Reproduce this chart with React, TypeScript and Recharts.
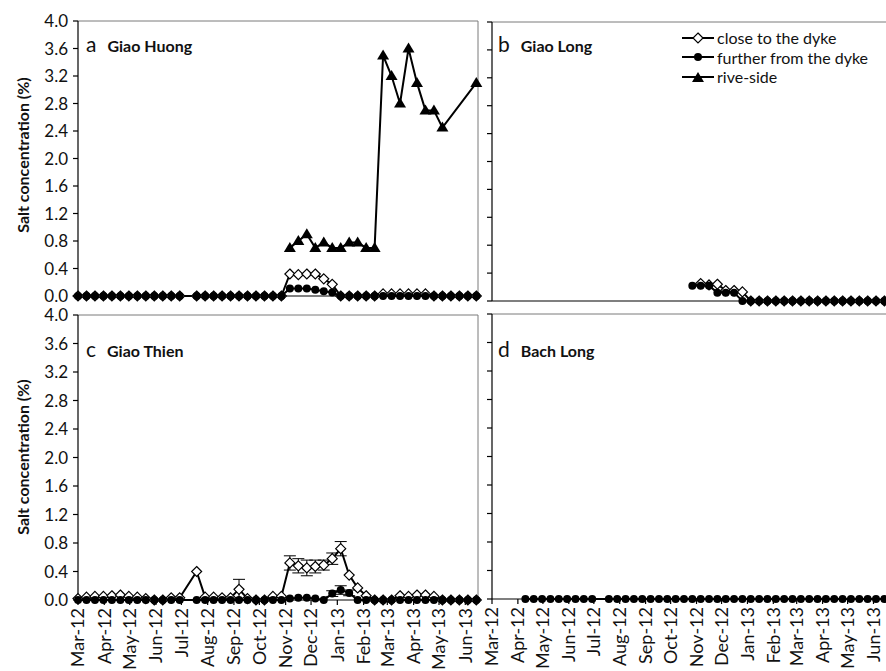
import React from 'react';
import { LineChart, Line, XAxis, YAxis, ReferenceLine, ErrorBar } from 'recharts';

const FONT = 'Lato, "Open Sans", Arial, sans-serif';

// sampling days counted from 1 Mar 2012 (one sample every 10 days)
const sampleDays = [
  0, 10, 20, 30, 40, 50, 60, 70, 80, 90,
  100, 110, 120, 130, 140, 150, 160, 170, 180, 190,
  200, 210, 220, 230, 240, 250, 260, 270, 280, 290,
  300, 310, 320, 330, 340, 350, 360, 370, 380, 390,
  400, 410, 420, 430, 440, 450, 460, 470,
];

const monthLabels = [
  'Mar-12', 'Apr-12', 'May-12', 'Jun-12', 'Jul-12', 'Aug-12', 'Sep-12', 'Oct-12',
  'Nov-12', 'Dec-12', 'Jan-13', 'Feb-13', 'Mar-13', 'Apr-13', 'May-13', 'Jun-13',
];
const monthStartDays = [0, 31, 61, 92, 122, 153, 184, 214, 245, 275, 306, 337, 365, 396, 426, 457];
const dayDomain: [number, number] = [0, 472];

const yTicks = [0, 0.4, 0.8, 1.2, 1.6, 2.0, 2.4, 2.8, 3.2, 3.6, 4.0];

const seriesNames = {
  close: 'close to the dyke',
  further: 'further from the dyke',
  rive: 'rive-side',
};

// a - Giao Huong
const closeA = [
  0, 0, 0, 0, 0, 0, 0, 0, 0, 0,
  0, 0, 0, null, 0, 0, 0, 0, 0, 0,
  0, 0, 0, 0, 0, 0.32, 0.31, 0.32, 0.32, 0.25,
  0.17, 0, 0, 0, 0, 0, 0.03, 0.03, 0.03, 0.03,
  0.03, 0.03, 0, 0, 0, 0, 0, 0,
];
const furtherA = [
  0, 0, 0, 0, 0, 0, 0, 0, 0, 0,
  0, 0, 0, null, 0, 0, 0, 0, 0, 0,
  0, 0, 0, 0, 0, 0.11, 0.11, 0.11, 0.09, 0.07,
  0.05, 0, 0, 0, 0, 0, 0, 0, 0, 0,
  0, 0, 0, 0, 0, 0, 0, 0,
];
const riveA = [
  null, null, null, null, null, null, null, null, null, null,
  null, null, null, null, null, null, null, null, null, null,
  null, null, null, null, null, 0.7, 0.8, 0.9, 0.7, 0.78,
  0.7, 0.7, 0.78, 0.78, 0.7, 0.7, 3.5, 3.2, 2.8, 3.6,
  3.1, 2.7, 2.7, 2.45, null, null, null, 3.1,
];

// b - Giao Long
const closeB = [
  null, null, null, null, null, null, null, null, null, null,
  null, null, null, null, null, null, null, null, null, null,
  null, null, null, null, null, 0.25, 0.23, 0.24, 0.15, 0.15,
  0.13, 0, 0, 0, 0, 0, 0, 0, 0, 0,
  0, 0, 0, 0, 0, 0, 0, 0,
];
const furtherB = [
  null, null, null, null, null, null, null, null, null, null,
  null, null, null, null, null, null, null, null, null, null,
  null, null, null, null, 0.22, 0.22, 0.22, 0.12, 0.12, 0.12,
  0, 0, 0, 0, 0, 0, 0, 0, 0, 0,
  0, 0, 0, 0, 0, 0, 0, 0,
];

// c - Giao Thien (with standard errors)
const closeC = [
  0.02, 0.04, 0.05, 0.05, 0.06, 0.07, 0.05, 0.04, 0.02, 0,
  0, 0.03, 0.03, null, 0.4, 0.04, 0.04, 0.03, 0.03, 0.15,
  0.02, 0, 0, 0.05, 0.05, 0.52, 0.48, 0.45, 0.47, 0.49,
  0.58, 0.72, 0.35, 0.17, 0.06, 0, 0, 0, 0.06, 0.05,
  0.07, 0.07, 0.05, 0, 0, 0, 0, 0,
];
const closeErrC = [
  null, null, null, null, null, null, null, null, null, null,
  null, null, null, null, null, null, null, null, null, 0.14,
  null, null, null, null, null, 0.1, 0.1, 0.11, 0.09, 0.07,
  0.08, 0.1, null, null, null, null, null, null, null, null,
  null, null, null, null, null, null, null, null,
];
const furtherC = [
  0, 0, 0, 0, 0, 0, 0, 0, 0, 0,
  0, 0, 0, null, 0, 0, 0, 0, 0, 0,
  0, 0, 0, 0, 0, 0.02, 0.03, 0.03, 0.02, 0,
  0.09, 0.14, 0.1, 0, 0, 0, 0, 0, 0, 0,
  0, 0, 0, 0, 0, 0, 0, 0,
];
const furtherErrC = [
  null, null, null, null, null, null, null, null, null, null,
  null, null, null, null, null, null, null, null, null, null,
  null, null, null, null, null, null, null, null, null, null,
  0.04, 0.06, 0.04, null, null, null, null, null, null, null,
  null, null, null, null, null, null, null, null,
];

// d - Bach Long
const furtherD = [
  null, null, null, null, 0, 0, 0, 0, 0, 0,
  0, 0, 0, null, 0, 0, 0, 0, 0, 0,
  0, 0, 0, 0, 0, 0, 0, 0, 0, 0,
  0, 0, 0, 0, 0, 0, 0, 0, 0, 0,
  0, 0, 0, 0, 0, 0, 0, 0,
];

type Val = number | null;
type SeriesKey = 'close' | 'further' | 'rive';

interface SeriesInput {
  close?: Val[];
  further?: Val[];
  rive?: Val[];
  closeErr?: Val[];
  furtherErr?: Val[];
}

function buildRows(s: SeriesInput) {
  return sampleDays.map((day, i) => ({
    day,
    close: s.close ? s.close[i] : null,
    further: s.further ? s.further[i] : null,
    rive: s.rive ? s.rive[i] : null,
    closeErr: s.closeErr ? s.closeErr[i] : null,
    furtherErr: s.furtherErr ? s.furtherErr[i] : null,
  }));
}

function Marker({ kind, cx, cy }: { kind: SeriesKey; cx: number; cy: number }) {
  if (kind === 'close') {
    return (
      <path
        d={`M${cx},${cy - 5}L${cx + 5},${cy}L${cx},${cy + 5}L${cx - 5},${cy}Z`}
        fill="#fff"
        stroke="#000"
        strokeWidth={1.2}
      />
    );
  }
  if (kind === 'further') {
    return <circle cx={cx} cy={cy} r={4} fill="#000" />;
  }
  return <path d={`M${cx},${cy - 6}L${cx + 6},${cy + 4}L${cx - 6},${cy + 4}Z`} fill="#000" />;
}

const dotFor = (kind: SeriesKey) => (props: any) => {
  const { cx, cy, value, index } = props;
  if (value == null || cx == null || cy == null) return <g key={`${kind}-${index}`} />;
  return (
    <g key={`${kind}-${index}`}>
      <Marker kind={kind} cx={cx} cy={cy} />
    </g>
  );
};

const MonthTick = (props: any) => {
  const { x, y, payload } = props;
  const label = monthLabels[monthStartDays.indexOf(payload.value)] ?? '';
  return (
    <text
      transform={`translate(${x},${y + 1}) rotate(-90)`}
      textAnchor="end"
      dy="0.35em"
      fontSize={18}
      fontFamily={FONT}
      fill="#111"
    >
      {label}
    </text>
  );
};

interface PanelProps {
  rows: ReturnType<typeof buildRows>;
  keys: SeriesKey[];
  width: number;
  height: number;
  margin: { top: number; right: number; bottom: number; left: number };
  xAxisHeight: number;
  monthTicks: boolean;
  valueTicks: boolean;
  rightBorder: boolean;
}

function Panel({ rows, keys, width, height, margin, xAxisHeight, monthTicks, valueTicks, rightBorder }: PanelProps) {
  return (
    <LineChart width={width} height={height} data={rows} margin={margin}>
      <XAxis
        dataKey="day"
        type="number"
        domain={dayDomain}
        ticks={monthStartDays}
        interval={0}
        height={xAxisHeight}
        stroke="#000"
        strokeWidth={1.2}
        tickSize={5}
        tick={monthTicks ? <MonthTick /> : false}
        tickFormatter={() => ''}
      />
      <YAxis
        type="number"
        domain={[0, 4]}
        ticks={yTicks}
        interval={0}
        width={78}
        stroke="#000"
        strokeWidth={1.2}
        tickSize={5}
        tickMargin={5}
        tick={{ fontSize: 17, fill: '#111', fontFamily: FONT }}
        tickFormatter={(v: number) => (valueTicks ? v.toFixed(1) : '')}
      />
      <ReferenceLine y={4} stroke="#7a7a7a" strokeWidth={1} />
      {rightBorder && <ReferenceLine x={dayDomain[1]} stroke="#7a7a7a" strokeWidth={1} />}
      {keys.map((k) => (
        <Line
          key={k}
          name={seriesNames[k]}
          dataKey={k}
          type="linear"
          stroke="#000"
          strokeWidth={2}
          connectNulls
          isAnimationActive={false}
          dot={dotFor(k)}
          activeDot={false}
        >
          {k === 'close' && <ErrorBar dataKey="closeErr" direction="y" width={6} stroke="#000" strokeWidth={1} />}
          {k === 'further' && <ErrorBar dataKey="furtherErr" direction="y" width={6} stroke="#000" strokeWidth={1} />}
        </Line>
      ))}
    </LineChart>
  );
}

function PanelTitle({ letter, site, left, top }: { letter: string; site: string; left: number; top: number }) {
  return (
    <div
      style={{
        position: 'absolute',
        left,
        top,
        display: 'flex',
        alignItems: 'baseline',
        gap: 11,
        fontFamily: FONT,
        color: '#111',
        whiteSpace: 'nowrap',
      }}
    >
      <span style={{ fontSize: 21 }}>{letter}</span>
      <span style={{ fontSize: 16, fontWeight: 700 }}>{site}</span>
    </div>
  );
}

function AxisTitle({ centerY }: { centerY: number }) {
  return (
    <div
      style={{
        position: 'absolute',
        left: 22,
        top: centerY,
        transform: 'translate(-50%, -50%) rotate(-90deg)',
        fontFamily: FONT,
        fontWeight: 700,
        fontSize: 16,
        color: '#111',
        whiteSpace: 'nowrap',
      }}
    >
      Salt concentration (%)
    </div>
  );
}

function LegendBox() {
  const items: SeriesKey[] = ['close', 'further', 'rive'];
  return (
    <div style={{ position: 'absolute', left: 681, top: 28, fontFamily: FONT, fontSize: 16, color: '#111' }}>
      {items.map((k) => (
        <div key={k} style={{ display: 'flex', alignItems: 'center', height: 19.5 }}>
          <svg width={34} height={14} style={{ marginRight: 2 }}>
            <line x1={1} y1={7} x2={33} y2={7} stroke="#000" strokeWidth={2} />
            <Marker kind={k} cx={17} cy={k === 'rive' ? 8 : 7} />
          </svg>
          <span>{seriesNames[k]}</span>
        </div>
      ))}
    </div>
  );
}

const rowsA = buildRows({ close: closeA, further: furtherA, rive: riveA });
const rowsB = buildRows({ close: closeB, further: furtherB });
const rowsC = buildRows({ close: closeC, further: furtherC, closeErr: closeErrC, furtherErr: furtherErrC });
const rowsD = buildRows({ further: furtherD });

export default function App() {
  return (
    <div
      style={{
        position: 'fixed',
        left: 0,
        top: 0,
        width: 886,
        height: 671,
        overflow: 'hidden',
        background: '#fff',
      }}
    >
      <div style={{ position: 'absolute', left: 0, top: 0 }}>
        <Panel
          rows={rowsA}
          keys={['close', 'further', 'rive']}
          width={490}
          height={310}
          margin={{ top: 21, right: 12, bottom: 0, left: 0 }}
          xAxisHeight={14}
          monthTicks={false}
          valueTicks
          rightBorder
        />
      </div>
      <div style={{ position: 'absolute', left: 414, top: 0 }}>
        <Panel
          rows={rowsB}
          keys={['close', 'further']}
          width={490}
          height={315}
          margin={{ top: 22, right: 18, bottom: 0, left: 0 }}
          xAxisHeight={14}
          monthTicks={false}
          valueTicks={false}
          rightBorder={false}
        />
      </div>
      <div style={{ position: 'absolute', left: 0, top: 300 }}>
        <Panel
          rows={rowsC}
          keys={['close', 'further']}
          width={490}
          height={371}
          margin={{ top: 15, right: 12, bottom: 0, left: 0 }}
          xAxisHeight={71}
          monthTicks
          valueTicks
          rightBorder
        />
      </div>
      <div style={{ position: 'absolute', left: 414, top: 300 }}>
        <Panel
          rows={rowsD}
          keys={['further']}
          width={490}
          height={371}
          margin={{ top: 14, right: 18, bottom: 0, left: 0 }}
          xAxisHeight={72}
          monthTicks
          valueTicks={false}
          rightBorder={false}
        />
      </div>

      <AxisTitle centerY={155} />
      <AxisTitle centerY={457} />
      <PanelTitle letter="a" site="Giao Huong" left={86} top={31} />
      <PanelTitle letter="b" site="Giao Long" left={498} top={31} />
      <PanelTitle letter="c" site="Giao Thien" left={86} top={336} />
      <PanelTitle letter="d" site="Bach Long" left={498} top={336} />
      <LegendBox />
    </div>
  );
}
